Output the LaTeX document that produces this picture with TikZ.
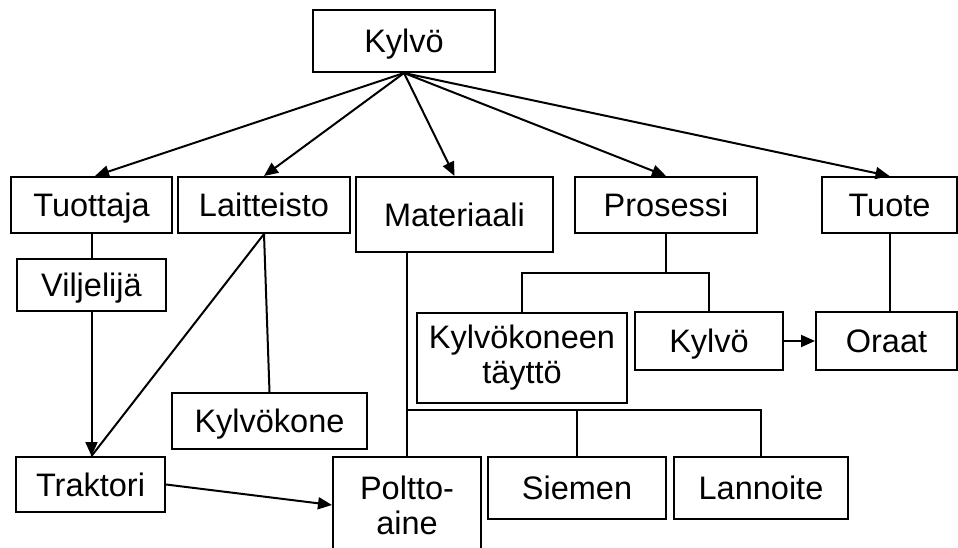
\documentclass[tikz,border=0pt]{standalone}
\usepackage{fontspec}
\setmainfont{Liberation Sans}
\usetikzlibrary{arrows.meta}

\begin{document}
\begin{tikzpicture}[x=1pt, y=-1pt,
  box/.style={draw, line width=2pt, inner sep=0pt,
    font=\fontsize{32.5}{36}\selectfont, text height=23pt, text depth=0pt},
  tallbox/.style={draw, line width=2pt, inner sep=0pt, align=center,
    font=\fontsize{32.5}{35}\selectfont},
  link/.style={line width=2pt},
  arrow/.style={line width=2pt, -{Triangle[length=14pt, width=12pt]}}
]
\useasboundingbox (0,0) rectangle (958,548);

% top level
\node[box, minimum width=182pt, minimum height=62pt] (root) at (404,41) {Kylvö};

% second level
\node[box, minimum width=161pt, minimum height=56pt] (tuottaja)   at (91.5,205)  {Tuottaja};
\node[box, minimum width=172pt, minimum height=56pt] (laitteisto) at (264,205)   {Laitteisto};
\node[box, minimum width=197pt, minimum height=75pt] (materiaali) at (454.5,214.5) {Materiaali};
\node[box, minimum width=182pt, minimum height=56pt] (prosessi)   at (666,205)   {Prosessi};
\node[box, minimum width=135pt, minimum height=56pt] (tuote)      at (889.5,205) {Tuote};

% lower levels
\node[box, minimum width=149pt, minimum height=52pt] (viljelija) at (91.5,285)  {Viljelijä};
\node[box, minimum width=149pt, minimum height=55pt] (traktori)  at (90.5,484.5) {Traktori};
\node[box, minimum width=195pt, minimum height=56pt] (kylvokone) at (269.5,421)  {Kylvökone};
\node[tallbox, minimum width=210pt, minimum height=90pt] (taytto) at (522,358) {Kylvökoneen\\täyttö};
\node[box, minimum width=148pt, minimum height=58pt] (kylvo)  at (709,341)   {Kylvö};
\node[box, minimum width=141pt, minimum height=58pt] (oraat)  at (886.5,341) {Oraat};
\node[tallbox, minimum width=148pt, minimum height=96pt] (poltto) at (407,505) {Poltto-\\aine};
\node[box, minimum width=178pt, minimum height=62pt] (siemen)   at (577,488) {Siemen};
\node[box, minimum width=174pt, minimum height=62pt] (lannoite) at (761,488) {Lannoite};

% arrows from the root
\draw[arrow] (root.south) -- ([xshift=3.5pt]tuottaja.north);
\draw[arrow] (root.south) -- (laitteisto.north);
\draw[arrow] (root.south) -- (materiaali.north);
\draw[arrow] (root.south) -- (prosessi.north);
\draw[arrow] (root.south) -- (tuote.north);

% Tuottaja branch
\draw[link] (tuottaja.south) -- (viljelija.north);
\coordinate (trtop) at (viljelija.south |- traktori.north);
\draw[arrow] (viljelija.south) -- (trtop);

% Laitteisto branch
\draw[link] (laitteisto.south) -- (trtop);
\draw[link] (laitteisto.south) -- (kylvokone.north);

% Materiaali branch
\coordinate (mbus) at (407,410);
\draw[link] (poltto.north |- materiaali.south) -- (poltto.north);
\draw[link] (mbus) -| (siemen.north);
\draw[link] (mbus) -| (lannoite.north);

% Prosessi branch
\coordinate (pbus) at (666,273);
\draw[link] (prosessi.south) -- (pbus);
\draw[link] (pbus) -| (taytto.north);
\draw[link] (pbus) -| (kylvo.north);
\draw[arrow] (kylvo.east) -- (oraat.west);

% Tuote branch
\draw[link] (tuote.south) -- (tuote.south |- oraat.north);

% Traktori to fuel
\draw[arrow] (traktori.east) -- (poltto.west);
\end{tikzpicture}
\end{document}
